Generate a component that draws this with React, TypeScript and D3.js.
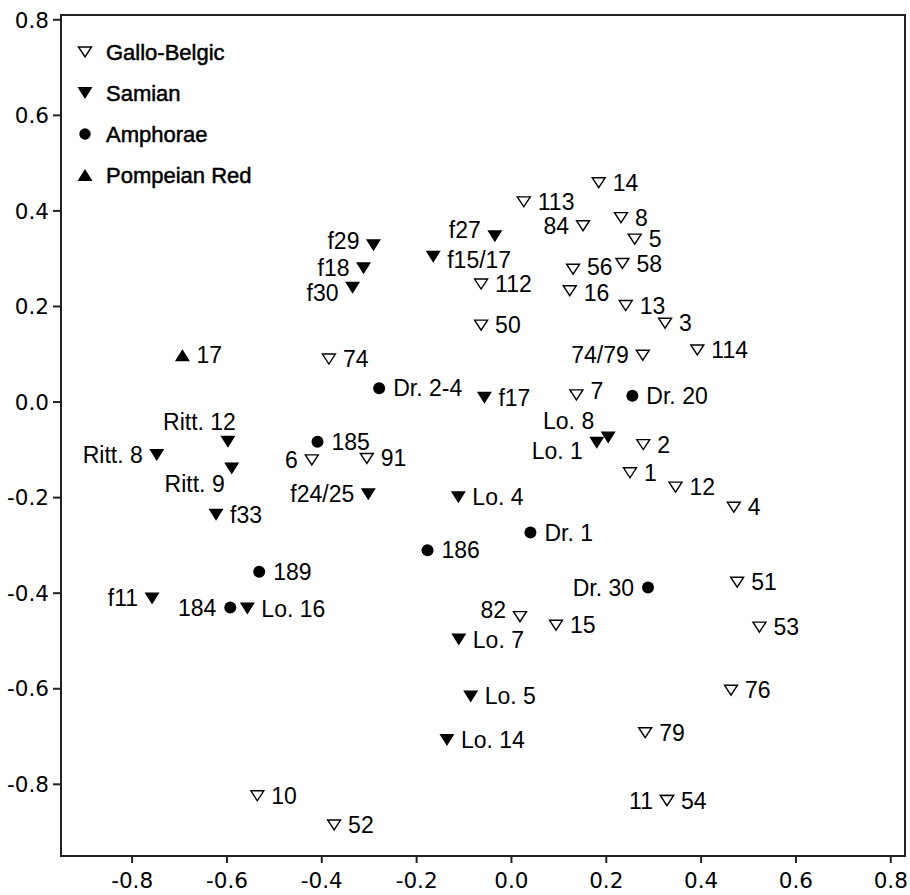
import React from 'react';
import * as d3 from 'd3';

// Gallo-Belgic (open triangles)
const galloLabels = ["113", "14", "8", "84", "5", "56", "58", "16", "13", "3", "74/79", "114", "7", "112", "50", "74", "6", "91", "2", "1", "12", "4", "51", "82", "15", "53", "76", "79", "10", "52", "11", "54"];
const galloX = [0.026, 0.184, 0.231, 0.151, 0.260, 0.130, 0.234, 0.123, 0.241, 0.324, 0.277, 0.392, 0.137, -0.064, -0.064, -0.385, -0.421, -0.305, 0.278, 0.250, 0.346, 0.469, 0.476, 0.018, 0.094, 0.523, 0.463, 0.282, -0.536, -0.374, 0.328, 0.328];
const galloY = [0.419, 0.459, 0.386, 0.369, 0.341, 0.278, 0.290, 0.233, 0.202, 0.165, 0.098, 0.109, 0.015, 0.247, 0.161, 0.090, -0.121, -0.118, -0.089, -0.148, -0.178, -0.220, -0.377, -0.449, -0.467, -0.471, -0.603, -0.692, -0.824, -0.885, -0.834, -0.834];

// Samian (filled down triangles)
const samianLabels = ["f29", "f18", "f30", "f27", "f15/17", "f17", "Ritt. 12", "Ritt. 8", "Ritt. 9", "f24/25", "Lo. 4", "f33", "f11", "Lo. 16", "Lo. 8", "Lo. 1", "Lo. 7", "Lo. 5", "Lo. 14"];
const samianX = [-0.291, -0.312, -0.335, -0.035, -0.165, -0.057, -0.598, -0.748, -0.590, -0.302, -0.112, -0.623, -0.758, -0.557, 0.204, 0.180, -0.111, -0.086, -0.136];
const samianY = [0.328, 0.280, 0.239, 0.347, 0.304, 0.009, -0.083, -0.111, -0.139, -0.193, -0.199, -0.236, -0.411, -0.432, -0.074, -0.085, -0.497, -0.616, -0.707];

// Amphorae (filled circles)
const amphoraeLabels = ["Dr. 20", "Dr. 2-4", "185", "186", "189", "184", "Dr. 1", "Dr. 30"];
const amphoraeX = [0.255, -0.279, -0.409, -0.177, -0.532, -0.593, 0.040, 0.288];
const amphoraeY = [0.013, 0.029, -0.083, -0.310, -0.355, -0.430, -0.273, -0.388];

// Pompeian Red (filled up triangles)
const pompeianLabels = ["17"];
const pompeianX = [-0.694];
const pompeianY = [0.098];

const legendNames = ["Gallo-Belgic", "Samian", "Amphorae", "Pompeian Red"];
const tickValues = [-0.8, -0.6, -0.4, -0.2, 0.0, 0.2, 0.4, 0.6, 0.8];

// label side: default right
const labelSide: Record<string, string> = {
  "84": "l", "74/79": "l", "f29": "l", "f18": "l", "f30": "l", "f27": "l",
  "Ritt. 8": "l", "6": "l", "f24/25": "l", "f11": "l", "184": "l", "Lo. 1": "l",
  "Dr. 30": "l", "82": "l", "11": "l",
  "Ritt. 12": "tl", "Lo. 8": "tl", "Ritt. 9": "bl",
};
const labelNudge: Record<string, number> = {
  "f30": 5, "Lo. 1": 8, "82": -7, "f29": -4, "f27": -6, "f15/17": 3, "7": -4,
  "56": -2, "16": 2,
};

const W = 910, H = 895;
const left = 61, right = 905, top = 15, bottom = 856;

const x = d3.scaleLinear().domain([-0.95, 0.83]).range([left, right]);
const y = d3.scaleLinear().domain([-0.95, 0.81]).range([bottom, top]);

const labelFont = "'Liberation Sans', Arial, sans-serif";
const tickFont = "'DejaVu Sans', Verdana, sans-serif";

function Marker({ kind, cx, cy, s = 1 }: { kind: number; cx: number; cy: number; s?: number }) {
  if (kind === 0) {
    const w = 13 * s, h = 10 * s;
    return <path d={`M${cx - w / 2},${cy - h / 2}L${cx + w / 2},${cy - h / 2}L${cx},${cy + h / 2}Z`} fill="#fff" stroke="#000" strokeWidth={1.4} />;
  }
  if (kind === 1) {
    const w = 15 * s, h = 12 * s;
    return <path d={`M${cx - w / 2},${cy - h / 2}L${cx + w / 2},${cy - h / 2}L${cx},${cy + h / 2}Z`} fill="#000" />;
  }
  if (kind === 2) {
    return <circle cx={cx} cy={cy} r={6 * s} fill="#000" />;
  }
  const w = 15 * s, h = 12 * s;
  return <path d={`M${cx - w / 2},${cy + h / 2}L${cx + w / 2},${cy + h / 2}L${cx},${cy - h / 2}Z`} fill="#000" />;
}

function Label({ text, px, py }: { text: string; px: number; py: number }) {
  const side = labelSide[text] || "r";
  const nudge = labelNudge[text] || 0;
  let tx = px + 14, ty = py + nudge, anchor = "start";
  if (side === "l") { tx = px - 14; anchor = "end"; }
  if (side === "tl") {
    anchor = "end";
    if (text === "Ritt. 12") { tx = px + 8; ty = py - 20; } else { tx = px - 14; ty = py - 16; }
  }
  if (side === "bl") { tx = px - 7; ty = py + 15; anchor = "end"; }
  return (
    <text x={tx} y={ty} dy="0.35em" textAnchor={anchor} fontSize={23} fontFamily={labelFont} fill="#000">{text}</text>
  );
}

export default function App() {
  const series = [
    { kind: 0, labels: galloLabels, xs: galloX, ys: galloY },
    { kind: 1, labels: samianLabels, xs: samianX, ys: samianY },
    { kind: 2, labels: amphoraeLabels, xs: amphoraeX, ys: amphoraeY },
    { kind: 3, labels: pompeianLabels, xs: pompeianX, ys: pompeianY },
  ];

  return (
    <svg width={W} height={H} style={{ position: 'absolute', left: 0, top: 0, background: '#fff' }}>
      <rect x={0} y={0} width={W} height={H} fill="#fff" />
      {/* frame */}
      <rect x={left} y={top} width={right - left} height={bottom - top} fill="none" stroke="#222" strokeWidth={2} />

      {/* x ticks */}
      {tickValues.map(t => (
        <g key={'x' + t}>
          <line x1={x(t)} x2={x(t)} y1={bottom} y2={bottom + 7} stroke="#222" strokeWidth={2} />
          <text x={x(t)} y={888} textAnchor="middle" fontSize={21.5} fontFamily={tickFont} fill="#000">{t.toFixed(1)}</text>
        </g>
      ))}
      {/* y ticks */}
      {tickValues.map(t => (
        <g key={'y' + t}>
          <line x1={left - 8} x2={left} y1={y(t)} y2={y(t)} stroke="#222" strokeWidth={2} />
          <text x={left - 12} y={y(t)} dy="0.36em" textAnchor="end" fontSize={21.5} fontFamily={tickFont} fill="#000">{t.toFixed(1)}</text>
        </g>
      ))}

      {/* legend */}
      {legendNames.map((n, i) => (
        <g key={n}>
          <Marker kind={i} cx={85} cy={52 + i * 41} s={i === 2 ? 0.95 : 1} />
          <text x={106} y={52 + i * 41} dy="0.35em" fontSize={22} fontFamily={labelFont} fill="#000" stroke="#000" strokeWidth={0.5}>{n}</text>
        </g>
      ))}

      {/* points */}
      {series.map(s => s.labels.map((lab, i) => (
        <g key={s.kind + '-' + lab}>
          <Marker kind={s.kind} cx={x(s.xs[i])} cy={y(s.ys[i])} />
          <Label text={lab} px={x(s.xs[i])} py={y(s.ys[i])} />
        </g>
      )))}
    </svg>
  );
}
